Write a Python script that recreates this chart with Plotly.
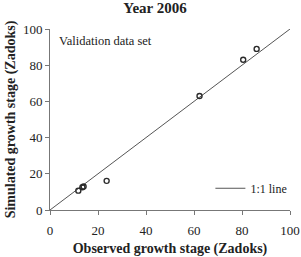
import plotly.graph_objects as go

observed = [11.8, 13.5, 14.0, 23.6, 62.3, 80.5, 86.1]
simulated = [10.7, 12.6, 13.0, 16.1, 63.0, 83.0, 89.0]
line_x = [0, 100]
line_y = [0, 100]
ticks = [0, 20, 40, 60, 80, 100]

font = "Liberation Serif"
fig = go.Figure()
fig.add_trace(go.Scatter(x=line_x, y=line_y, mode="lines", name="1:1 line",
                         line=dict(color="#555555", width=1)))
fig.add_trace(go.Scatter(x=observed, y=simulated, mode="markers", showlegend=False,
                         marker=dict(symbol="circle-open", size=5, color="#2a2a2a",
                                     line=dict(width=1.4, color="#2a2a2a"))))
fig.update_layout(
    width=301, height=257,
    margin=dict(l=50, r=11, t=29, b=47, autoexpand=False),
    paper_bgcolor="white", plot_bgcolor="white",
    font=dict(family=font, color="#222222", size=13),
    title=dict(text="<b>Year 2006</b>", xref="container", x=0.515, xanchor="center",
               yref="container", y=0.968, yanchor="middle",
               font=dict(size=15, family=font)),
    xaxis=dict(range=[0, 100], tickvals=ticks, showgrid=False, zeroline=False,
               automargin=False,
               showline=True, linecolor="#777777", ticks="outside", ticklen=4,
               tickcolor="#777777", tickfont=dict(size=13), ticklabelstandoff=4,
               title=dict(text="<b>Observed growth stage (Zadoks)</b>", standoff=8,
                          font=dict(size=14))),
    yaxis=dict(range=[0, 100], tickvals=ticks, showgrid=False, zeroline=False,
               automargin=False,
               showline=True, linecolor="#777777", ticks="outside", ticklen=4,
               tickcolor="#777777", tickfont=dict(size=13),
               title=dict(text="<b>Simulated growth stage (Zadoks)</b>", standoff=4,
                          font=dict(size=14))),
    legend=dict(x=1.01, y=0.04, xanchor="right", yanchor="bottom",
                bgcolor="rgba(0,0,0,0)", font=dict(size=12), itemwidth=30),
    showlegend=True,
)
fig.add_annotation(text="Validation data set", xref="paper", yref="paper",
                   x=0.03, y=0.934, xanchor="left", yanchor="middle",
                   showarrow=False, font=dict(size=12.5, family=font))
fig.write_html("out.html")
